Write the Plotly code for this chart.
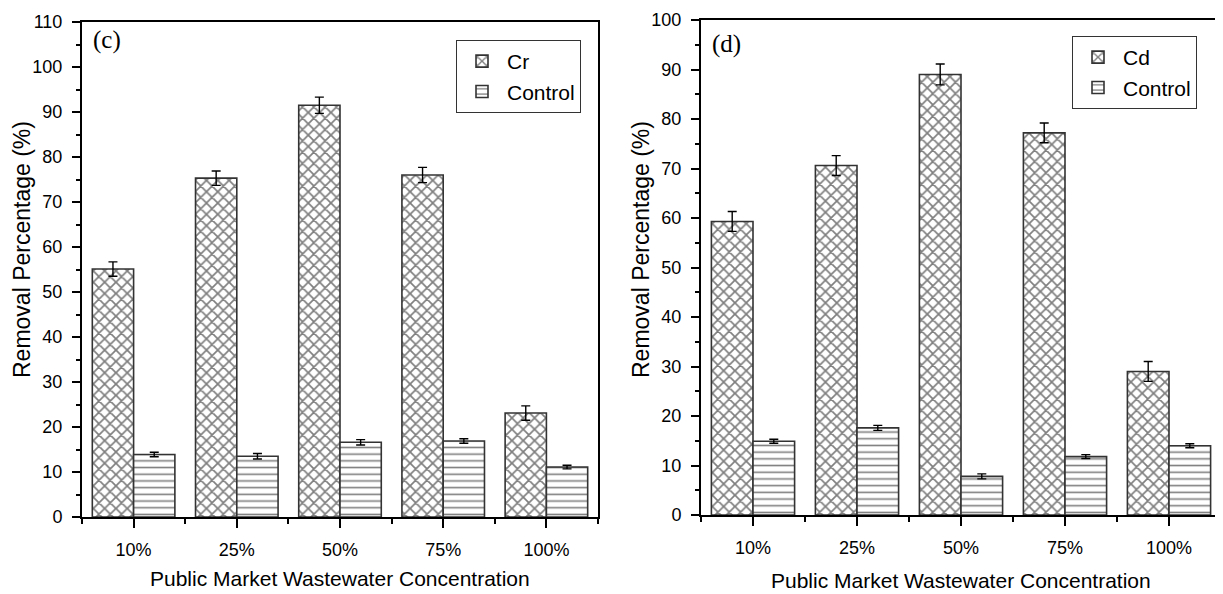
import plotly.graph_objects as go

# ---------------- data ----------------
categories = ["10%", "25%", "50%", "75%", "100%"]

cr_values = [55.1, 75.3, 91.5, 76.0, 23.1]
cr_errors = [1.6, 1.6, 1.8, 1.7, 1.6]
cr_control_values = [13.9, 13.5, 16.6, 16.9, 11.1]
cr_control_errors = [0.5, 0.6, 0.6, 0.5, 0.4]

cd_values = [59.3, 70.6, 89.0, 77.2, 29.0]
cd_errors = [2.0, 2.0, 2.1, 2.0, 2.0]
cd_control_values = [14.9, 17.6, 7.8, 11.8, 14.0]
cd_control_errors = [0.4, 0.5, 0.5, 0.4, 0.4]

W, H = 1223, 594
OFF = 8  # page body margin in the browser
xpos = list(range(len(categories)))


def px(x):
    return (x - OFF) / W


def py(y):
    return 1 - (y - OFF) / H


FONT = "Liberation Sans, Arial, sans-serif"
SERIF = "Liberation Serif, Times New Roman, serif"

hatch = dict(shape="x", fgcolor="black", bgcolor="white", size=8, solidity=0.38, fillmode="overlay")
lines = dict(shape="-", fgcolor="black", bgcolor="white", size=6.7, solidity=0.24, fillmode="overlay")
outline = dict(color="#333333", width=1.6)


def err(vals):
    return dict(type="data", array=vals, visible=True, color="black", thickness=1.4, width=4.5)


fig = go.Figure()

fig.add_trace(go.Bar(x=xpos, y=cr_values, error_y=err(cr_errors), name="Cr",
                     marker=dict(color="white", pattern=hatch, line=outline),
                     xaxis="x", yaxis="y", offsetgroup="a", legend="legend"))
fig.add_trace(go.Bar(x=xpos, y=cr_control_values, error_y=err(cr_control_errors), name="Control",
                     marker=dict(color="white", pattern=lines, line=outline),
                     xaxis="x", yaxis="y", offsetgroup="b", legend="legend"))
fig.add_trace(go.Bar(x=xpos, y=cd_values, error_y=err(cd_errors), name="Cd",
                     marker=dict(color="white", pattern=hatch, line=outline),
                     xaxis="x2", yaxis="y2", offsetgroup="a", legend="legend2"))
fig.add_trace(go.Bar(x=xpos, y=cd_control_values, error_y=err(cd_control_errors), name="Control",
                     marker=dict(color="white", pattern=lines, line=outline),
                     xaxis="x2", yaxis="y2", offsetgroup="b", legend="legend2"))


def xaxis(domain, anchor):
    return dict(domain=domain, anchor=anchor, range=[-0.5, len(categories) - 0.5],
                tickmode="array", tickvals=xpos, ticktext=categories,
                ticks="outside", ticklen=9, tickwidth=1.5, tickcolor="black",
                minor=dict(tickmode="linear", tick0=0.5, dtick=1, ticks="outside",
                           ticklen=5, tickwidth=1.5, tickcolor="black"),
                showline=True, linecolor="black", linewidth=2, mirror=True,
                showgrid=False, zeroline=False, ticklabelstandoff=6, automargin=False,
                tickfont=dict(family=FONT, size=18, color="black"))


def yaxis(domain, anchor, top):
    return dict(domain=domain, anchor=anchor, range=[0, top], dtick=10, tick0=0,
                ticks="outside", ticklen=8, tickwidth=1.5, tickcolor="black",
                minor=dict(dtick=5, ticks="outside", ticklen=4, tickwidth=1.5, tickcolor="black"),
                showline=True, linecolor="black", linewidth=2, mirror=True,
                showgrid=False, zeroline=False, ticklabelstandoff=6, automargin=False,
                tickfont=dict(family=FONT, size=18, color="black"))


legend_common = dict(bordercolor="#333333", borderwidth=1, bgcolor="white",
                     font=dict(family=FONT, size=21, color="black"),
                     xanchor="left", yanchor="top", tracegroupgap=0, itemwidth=40)

fig.update_layout(
    template="none",
    width=W, height=H,
    margin=dict(l=0, r=0, t=0, b=0, pad=0),
    paper_bgcolor="white", plot_bgcolor="white",
    barmode="group", bargap=0.2, bargroupgap=0,
    xaxis=xaxis([px(82), px(598)], "y"),
    yaxis=yaxis([py(517), py(22)], "x", 110),
    xaxis2=xaxis([px(701), px(1221)], "y2"),
    yaxis2=yaxis([py(515), py(20)], "x2", 100),
    legend=dict(x=px(456), y=py(40), **legend_common),
    legend2=dict(x=px(1072), y=py(36), **legend_common),
    showlegend=True,
)

annotations = [
    dict(text="(c)", x=px(91), y=py(40), xanchor="left", yanchor="middle",
         font=dict(family=SERIF, size=25, color="black")),
    dict(text="(d)", x=px(710), y=py(44), xanchor="left", yanchor="middle",
         font=dict(family=SERIF, size=25, color="black")),
    dict(text="Removal Percentage (%)", x=px(22), y=py(250), textangle=-90,
         xanchor="center", yanchor="middle", font=dict(family=FONT, size=23, color="black")),
    dict(text="Removal Percentage (%)", x=px(641), y=py(250), textangle=-90,
         xanchor="center", yanchor="middle", font=dict(family=FONT, size=23, color="black")),
    dict(text="Public Market Wastewater Concentration", x=px(340), y=py(578),
         xanchor="center", yanchor="middle", font=dict(family=FONT, size=21, color="black")),
    dict(text="Public Market Wastewater Concentration", x=px(961), y=py(580),
         xanchor="center", yanchor="middle", font=dict(family=FONT, size=21, color="black")),
]
for a in annotations:
    a.update(xref="paper", yref="paper", showarrow=False)
fig.update_layout(annotations=annotations)

fig.write_html("out.html")
